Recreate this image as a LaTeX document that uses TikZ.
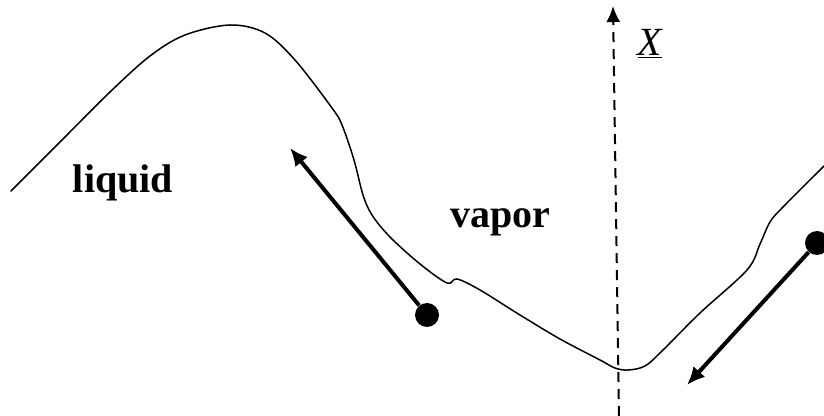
\documentclass[tikz,border=0pt]{standalone}
\usepackage{fontspec}
\setmainfont{Liberation Serif}
\usepackage{tikz}
\usetikzlibrary{arrows.meta, positioning}

\begin{document}
\begin{tikzpicture}[
  x=0.5pt, y=-0.5pt,
  phaseline/.style={line width=0.75pt, line cap=round},
  region/.style={font=\fontsize{20}{24}\selectfont\bfseries, inner sep=0pt},
  particle/.style={circle, fill=black, minimum size=12pt, inner sep=0pt},
  arr/.style={-{Latex[length=9pt, width=8pt]}, line width=2pt},
  axis/.style={-{Latex[length=8pt, width=7pt]}, line width=1pt, dash pattern=on 5pt off 3.5pt}
]
  \useasboundingbox (0,0) rectangle (824,416);

  % interface between the two phases
  \draw[phaseline] plot[smooth, tension=0.55] coordinates {
    (11,191) (60,142) (110,92) (150,56) (185,35) (230,25) (265,33)
    (295,60) (332,108) (342,125) (354,160) (363,195) (372,215)
    (390,237) (420,264) (447,283) (457,279) (480,290) (520,315)
    (560,339) (600,360) (615,368) (628,370) (645,366) (662,351)
    (700,313) (747,270) (760,244) (770,222) (783,207) (824,166)};

  \node[region] (liquid) at (123,183) {liquid};
  \node[region] (vapor) at (500,222) {vapor};

  % reaction coordinate
  \coordinate (xlow) at (619,416);
  \coordinate (xhigh) at (613,6);
  \draw[axis] (xlow) -- (xhigh);
  \node[font=\fontsize{20}{24}\selectfont\itshape, inner sep=0pt] (xlabel) at (650,44) {\underline{X}};

  % particles and their motion
  \node[particle] (p1) at (427,315) {};
  \coordinate (p1end) at (290,148);
  \draw[arr] (p1) -- (p1end);

  \node[particle] (p2) at (817,243) {};
  \coordinate (p2end) at (687,385);
  \draw[arr] (p2) -- (p2end);
\end{tikzpicture}
\end{document}
